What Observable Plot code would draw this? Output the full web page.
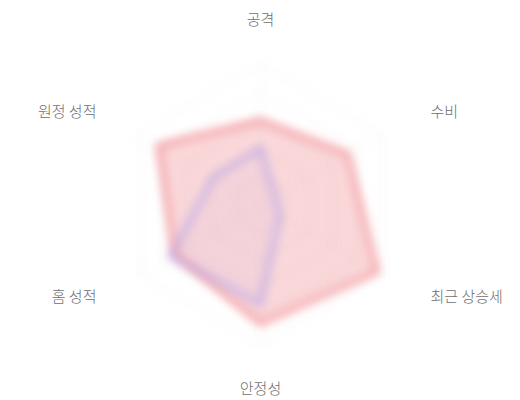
<!DOCTYPE html>
<html>
<head>
<meta charset="utf-8">
<script src="https://cdn.jsdelivr.net/npm/d3@7"></script>
<script src="https://cdn.jsdelivr.net/npm/@observablehq/plot@0.6"></script>
<style>
  html, body { margin: 0; padding: 0; background: #fff; }
  #chart svg { display: block; }
</style>
</head>
<body>
<div id="chart"></div>
<script>
// ---- data ----
const axes = ["공격", "수비", "최근 상승세", "안정성", "홈 성적", "원정 성적"];
const teamA = [60, 72, 96, 85, 71, 84];   // red
const teamB = [40, 12, 16, 71, 74, 39];   // blue
const gridLevels = [20, 40, 60, 80, 100];
const maxValue = 100;

// ---- geometry helpers (radius scale) ----
const W = 520, H = 400;
const R = 140;
const r = d3.scaleLinear().domain([0, maxValue]).range([0, R]);
const angle = i => (i * 2 * Math.PI) / axes.length; // clockwise from top
const px = (i, v) => r(v) * Math.sin(angle(i));
const py = (i, v) => r(v) * Math.cos(angle(i));

const seriesRows = (name, vals) => vals.map((v, i) => ({series: name, i, axis: axes[i], value: v}));
const rowsA = seriesRows("A", teamA);
const rowsB = seriesRows("B", teamB);
const gridRows = gridLevels.flatMap(l => axes.map((a, i) => ({level: l, i})));
const spokeRows = axes.map((a, i) => ({i, axis: a}));
const labelRows = axes.map((a, i) => ({i, axis: a}));

const labelR = maxValue * 1.32;
const side = i => {
  const s = Math.sin(angle(i));
  return Math.abs(s) < 1e-6 ? "middle" : s > 0 ? "start" : "end";
};
const labelMark = anchor => Plot.text(labelRows.filter(d => side(d.i) === anchor), {
  x: d => px(d.i, labelR), y: d => py(d.i, labelR), text: "axis",
  textAnchor: anchor, dx: anchor === "start" ? 10 : anchor === "end" ? -4 : 0,
  fill: "#6e6e72", fontSize: 15, fontWeight: 300
});

const chart = Plot.plot({
  width: W,
  height: H,
  margin: 0,
  x: {domain: [-260, 260], axis: null},
  y: {domain: [-196, 204], axis: null},
  style: {fontFamily: "'Noto Sans CJK KR', 'Noto Sans', sans-serif", background: "#fff"},
  marks: [
    // grid
    Plot.line(gridRows, {
      x: d => px(d.i, d.level), y: d => py(d.i, d.level), z: "level",
      curve: "linear-closed", stroke: "#ececec", strokeWidth: 1
    }),
    Plot.link(spokeRows, {
      x1: 0, y1: 0, x2: d => px(d.i, maxValue), y2: d => py(d.i, maxValue),
      stroke: "#f3f3f3", strokeWidth: 1
    }),
    // red series
    Plot.area(rowsA, {
      x1: d => px(d.i, d.value), y1: d => py(d.i, d.value), x2: 0, y2: 0,
      curve: "linear-closed", fill: "#ea5a66", fillOpacity: 0.24
    }),
    Plot.line(rowsA, {
      x: d => px(d.i, d.value), y: d => py(d.i, d.value),
      curve: "linear-closed", stroke: "#ee6670", strokeOpacity: 0.55, strokeWidth: 6
    }),
    // blue series
    Plot.area(rowsB, {
      x1: d => px(d.i, d.value), y1: d => py(d.i, d.value), x2: 0, y2: 0,
      curve: "linear-closed", fill: "#8a7de6", fillOpacity: 0.05
    }),
    Plot.line(rowsB, {
      x: d => px(d.i, d.value), y: d => py(d.i, d.value),
      curve: "linear-closed", stroke: "#a195f0", strokeOpacity: 0.5, strokeWidth: 6
    }),
    // labels
    labelMark("middle"),
    labelMark("start"),
    labelMark("end")
  ]
});

// soften the drawn shapes like the reference (text stays sharp)
d3.select(chart).selectAll("g[aria-label='line'], g[aria-label='link'], g[aria-label='area']")
  .style("filter", "blur(5px)");

document.getElementById("chart").append(chart);
</script>
</body>
</html>
